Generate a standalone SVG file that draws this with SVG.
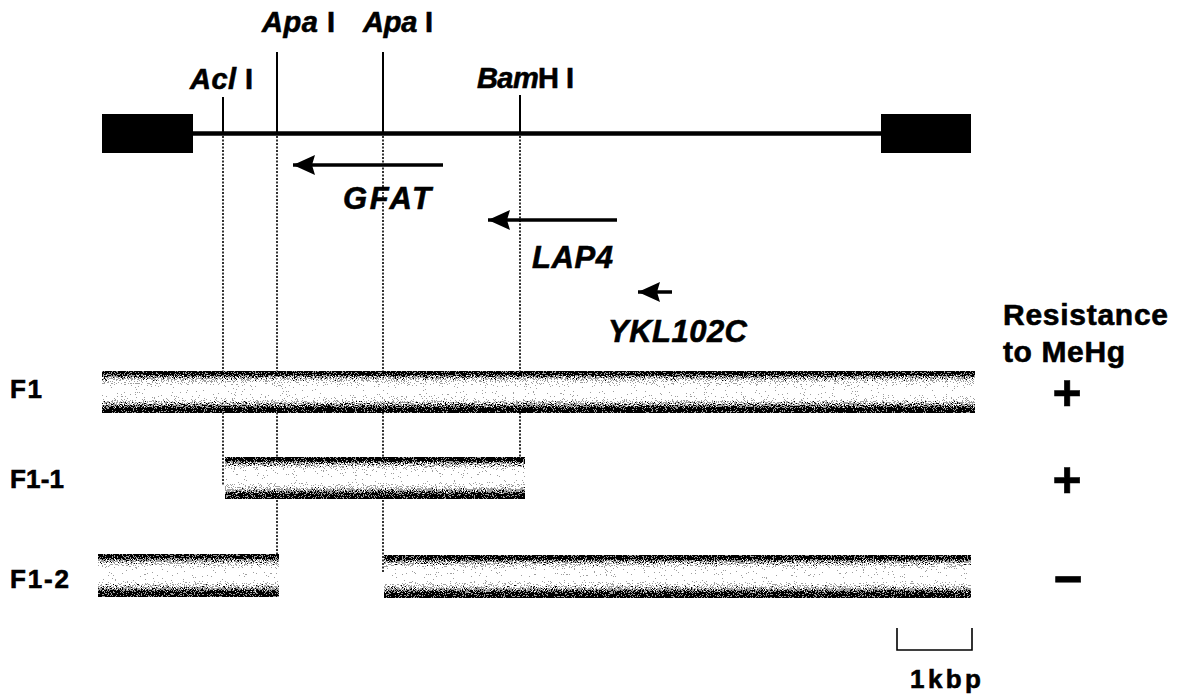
<svg xmlns="http://www.w3.org/2000/svg" width="1180" height="698" viewBox="0 0 1180 698">
  <defs>
    <linearGradient id="tube" x1="0" y1="0" x2="0" y2="1">
      <stop offset="0" stop-color="#000"/>
      <stop offset="0.08" stop-color="#000"/>
      <stop offset="0.14" stop-color="#5a5a5a"/>
      <stop offset="0.27" stop-color="#c8c8c8"/>
      <stop offset="0.38" stop-color="#fff"/>
      <stop offset="0.58" stop-color="#fff"/>
      <stop offset="0.7" stop-color="#bcbcbc"/>
      <stop offset="0.82" stop-color="#4a4a4a"/>
      <stop offset="0.89" stop-color="#000"/>
      <stop offset="1" stop-color="#000"/>
    </linearGradient>
    <filter id="grain" x="0" y="0" width="1" height="1" color-interpolation-filters="sRGB">
      <feTurbulence type="fractalNoise" baseFrequency="0.9" numOctaves="2" seed="7" result="t"/>
      <feColorMatrix in="t" type="matrix" values="2 0 0 0 -0.5  2 0 0 0 -0.5  2 0 0 0 -0.5  0 0 0 0 1" result="n"/>
      <feComposite in="SourceGraphic" in2="n" operator="arithmetic" k1="0" k2="1" k3="1" k4="-0.38" result="s"/>
      <feComponentTransfer in="s">
        <feFuncR type="discrete" tableValues="0 0.62 1"/>
        <feFuncG type="discrete" tableValues="0 0.62 1"/>
        <feFuncB type="discrete" tableValues="0 0.62 1"/>
      </feComponentTransfer>
    </filter>
    <marker id="head" viewBox="0 0 22 20" refX="22" refY="10" markerWidth="22" markerHeight="20" markerUnits="userSpaceOnUse" orient="auto">
      <path d="M0,0 L22,10 L0,20 L3,10 z" fill="#000"/>
    </marker>
  </defs>
  <style>
    text { font-family: "Liberation Sans", Arial, sans-serif; font-weight: bold; fill: #000; stroke: #000; stroke-width: 0.6; }
    .enz { font-size: 29px; }
    .it { font-style: italic; }
    .gene { font-style: italic; font-size: 31px; }
    .lbl { font-size: 26px; }
    .hdr { font-size: 30px; }
    .sign { font-size: 50px; text-anchor: middle; }
    .tick { stroke: #000; stroke-width: 2; fill: none; }
    .dot { stroke: #000; stroke-width: 1.6; stroke-dasharray: 2 1.5; fill: none; }
    .gline { stroke: #000; stroke-width: 3.5; fill: none; marker-end: url(#head); }
    .bar { fill: url(#tube); filter: url(#grain); }
  </style>
  <rect width="1180" height="698" fill="#fff"/>

  <g id="connectors">
    <line class="dot" x1="223" y1="136" x2="223" y2="486"/>
    <line class="dot" x1="277" y1="136" x2="277" y2="572"/>
    <line class="dot" x1="383" y1="136" x2="383" y2="572"/>
    <line class="dot" x1="520" y1="136" x2="520" y2="460"/>
  </g>

  <g id="chromosome">
    <rect x="102" y="114" width="91" height="39" fill="#000"/>
    <rect x="881" y="114" width="90" height="39" fill="#000"/>
    <line x1="193" y1="133.5" x2="881" y2="133.5" stroke="#000" stroke-width="4.5"/>
  </g>

  <g id="site-AclI">
    <line class="tick" x1="223" y1="97" x2="223" y2="133"/>
    <text class="enz" x="190" y="89" textLength="63"><tspan class="it">Acl</tspan> I</text>
  </g>
  <g id="site-ApaI-1">
    <line class="tick" x1="277" y1="52" x2="277" y2="133"/>
    <text class="enz" x="262" y="32" textLength="73"><tspan class="it">Apa</tspan> I</text>
  </g>
  <g id="site-ApaI-2">
    <line class="tick" x1="383" y1="52" x2="383" y2="133"/>
    <text class="enz" x="363" y="32" textLength="70"><tspan class="it">Apa</tspan> I</text>
  </g>
  <g id="site-BamHI">
    <line class="tick" x1="520" y1="95" x2="520" y2="133"/>
    <text class="enz" x="477" y="88" textLength="97"><tspan class="it">Bam</tspan>H I</text>
  </g>

  <g id="gene-GFAT">
    <line class="gline" x1="443" y1="165" x2="293" y2="165"/>
    <text class="gene" x="343" y="209" textLength="88">GFAT</text>
  </g>
  <g id="gene-LAP4">
    <line class="gline" x1="617" y1="220" x2="488" y2="220"/>
    <text class="gene" x="532" y="268" textLength="81">LAP4</text>
  </g>
  <g id="gene-YKL102C">
    <line class="gline" x1="672" y1="292" x2="638" y2="292"/>
    <text class="gene" x="608" y="342" textLength="139">YKL102C</text>
  </g>

  <g id="header-resistance">
    <text class="hdr" x="1003" y="325" textLength="165">Resistance</text>
    <text class="hdr" x="1003" y="362" textLength="122">to MeHg</text>
  </g>

  <g id="fragment-F1">
    <text class="lbl" x="10" y="398" textLength="32">F1</text>
    <rect class="bar" x="102" y="371" width="873" height="42"/>
    <text class="sign" x="1067" y="410">+</text>
  </g>
  <g id="fragment-F1-1">
    <text class="lbl" x="10" y="488" textLength="54">F1-1</text>
    <rect class="bar" x="225" y="457" width="300" height="42"/>
    <text class="sign" x="1067" y="497">+</text>
  </g>
  <g id="fragment-F1-2">
    <text class="lbl" x="10" y="588" textLength="59">F1-2</text>
    <rect class="bar" x="98" y="554" width="181" height="43"/>
    <rect class="bar" x="384" y="555" width="587" height="43"/>
    <text class="sign" x="1068" y="596">−</text>
  </g>

  <g id="scale-bar">
    <path d="M897,628 V650 H972 V628" stroke="#000" stroke-width="1.6" fill="none"/>
    <text class="lbl" x="910" y="688" font-size="29" textLength="71">1kbp</text>
  </g>
</svg>
